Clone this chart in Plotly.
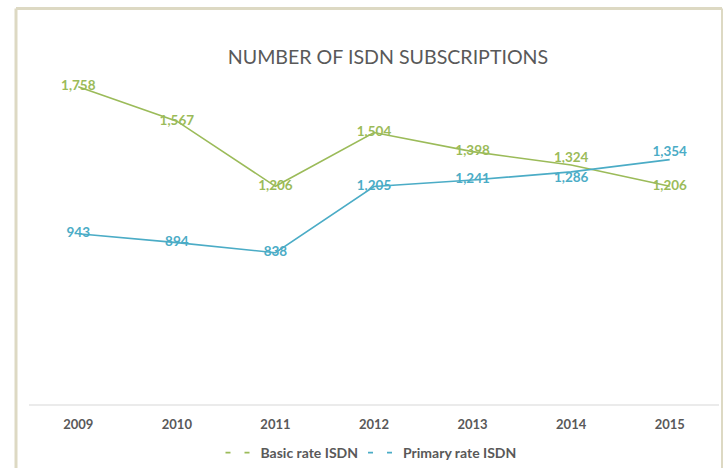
import plotly.graph_objects as go

years = ["2009", "2010", "2011", "2012", "2013", "2014", "2015"]
basic_rate = [1758, 1567, 1206, 1504, 1398, 1324, 1206]
primary_rate = [943, 894, 838, 1205, 1241, 1286, 1354]
series_names = ["Basic rate ISDN", "Primary rate ISDN"]
title_text = "NUMBER OF ISDN SUBSCRIPTIONS"

GREEN = "#9bbb59"
BLUE = "#4bacc6"
GRAY = "#595959"
FONT = "Lato"

basic_pos = ["middle center"] * 5 + ["top center", "middle center"]
primary_pos = ["middle center"] * 5 + ["bottom center", "top center"]

fig = go.Figure()
fig.add_trace(go.Scatter(
    x=years, y=basic_rate, mode="lines+text", name=series_names[0],
    line=dict(color=GREEN, width=1.6),
    text=[f"{v:,}" for v in basic_rate], textposition=basic_pos,
    textfont=dict(family=FONT, size=13.5, color=GREEN, weight="bold"),
    showlegend=False, cliponaxis=False,
))
fig.add_trace(go.Scatter(
    x=years, y=primary_rate, mode="lines+text", name=series_names[1],
    line=dict(color=BLUE, width=1.6),
    text=[f"{v:,}" for v in primary_rate], textposition=primary_pos,
    textfont=dict(family=FONT, size=13.5, color=BLUE, weight="bold"),
    showlegend=False, cliponaxis=False,
))
# legend entries
for nm, col in zip(series_names, [GREEN, BLUE]):
    fig.add_trace(go.Scatter(
        x=[None], y=[None], mode="lines", name=nm,
        line=dict(color=col, width=1.6, dash="5px,14px"),
    ))

L, R, T, B = 29, 4, 43.4, 64
W, H = 723, 468
pw = W - L - R
ph = H - T - B

def px_x(p):
    return (p - L) / pw

def px_y(p):
    return (H - B - p) / ph

fig.update_layout(
    width=W, height=H,
    margin=dict(l=L, r=R, t=T, b=B, pad=0),
    paper_bgcolor="white", plot_bgcolor="white",
    font=dict(family=FONT, color=GRAY),
    title=dict(text=title_text, x=388 / W, xanchor="center", xref="container",
               y=1 - 57 / H, yanchor="middle", yref="container",
               font=dict(family=FONT, size=19.6, color=GRAY)),
    xaxis=dict(type="category", range=[-0.5, 6.5], showgrid=False, zeroline=False,
               showline=True, linecolor="#ebebeb", linewidth=1.5,
               ticks="", ticklabelstandoff=8, automargin=False,
               tickfont=dict(family=FONT, size=13, color=GRAY, weight="bold")),
    yaxis=dict(range=[0, 2000], showgrid=False, zeroline=False, showline=False,
               showticklabels=False, automargin=False),
    legend=dict(orientation="h", x=px_x(371), xref="paper", xanchor="center",
                y=1 - 453 / H, yref="container", yanchor="middle",
                font=dict(family=FONT, size=14, color=GRAY, weight="bold"),
                itemwidth=30, bgcolor="rgba(0,0,0,0)"),
    shapes=[
        dict(type="line", xref="paper", yref="paper", x0=px_x(16), x1=px_x(16),
             y0=px_y(9), y1=px_y(470), line=dict(color="#ddd9c3", width=3)),
        dict(type="line", xref="paper", yref="paper", x0=px_x(16), x1=px_x(722),
             y0=px_y(9), y1=px_y(9), line=dict(color="#ddd9c3", width=3)),
        dict(type="line", xref="paper", yref="paper", x0=px_x(722), x1=px_x(722),
             y0=px_y(9), y1=px_y(470), line=dict(color="#ddd9c3", width=2)),
    ],
)

fig.write_html("out.html", config={"displayModeBar": False},
               post_script="document.body.style.margin='0';")
